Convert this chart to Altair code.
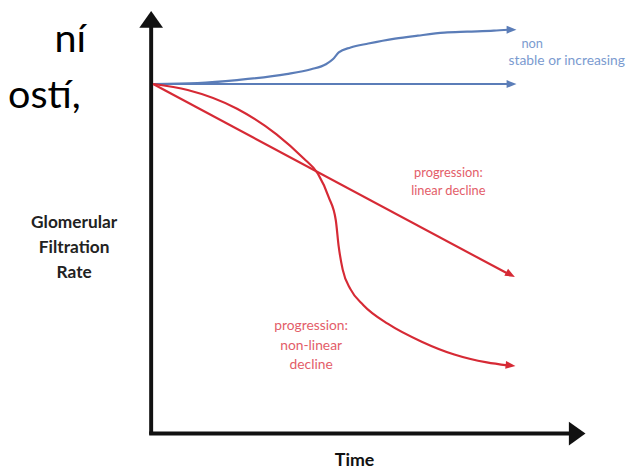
import altair as alt
import pandas as pd

# ---- values (pixel-like diagram coordinates) ----
blue_up_x = [155, 200, 240, 290, 315, 330, 337, 343, 355, 373, 400, 423, 450, 473, 500, 515]
blue_up_y = [82, 81, 78, 72, 67, 62, 57, 50, 45, 41, 36, 33, 30, 29, 28, 27]
blue_flat_x = [155, 515]
blue_flat_y = [82, 82]
red_lin_x = [155, 514]
red_lin_y = [82, 274]
red_nl_x = [155, 190, 240, 280, 307, 322, 333, 340, 343, 347, 355, 368, 393, 427, 460, 493, 514]
red_nl_y = [82, 88, 107, 133, 157, 173, 197, 220, 247, 270, 290, 306, 325, 343, 356, 364, 367]

axis_v_x = [153, 153]
axis_v_y = [22, 437]
axis_h_x = [151, 580]
axis_h_y = [436, 436]

# arrow heads: centre x, y, rotation
head_x = [518, 518, 517, 517]
head_y = [27, 82, 275, 367]
head_angle = [0, 0, 28, 6]
head_color = ["#5b7db8", "#5b7db8", "#d62a35", "#d62a35"]

XD = [8, 639]
YD = [8, 474]
W, H = 631, 466

xs = alt.Scale(domain=XD)
ys = alt.Scale(domain=YD, reverse=True)


def line_layer(xv, yv, color, width, interp="monotone"):
    df = pd.DataFrame({"x": xv, "y": yv, "o": list(range(len(xv)))})
    return alt.Chart(df).mark_line(color=color, strokeWidth=width, interpolate=interp).encode(
        x=alt.X("x:Q", scale=xs, axis=None),
        y=alt.Y("y:Q", scale=ys, axis=None),
        order="o:Q",
    )


def text_layer(lines, xv, yv, color, size, weight="normal", align="center"):
    df = pd.DataFrame({"t": lines, "x": xv, "y": yv})
    return alt.Chart(df).mark_text(
        color=color, fontSize=size, font="Lato", fontWeight=weight, align=align, baseline="middle"
    ).encode(
        x=alt.X("x:Q", scale=xs, axis=None),
        y=alt.Y("y:Q", scale=ys, axis=None),
        text="t:N",
    )


layers = []
layers.append(line_layer(axis_v_x, axis_v_y, "#111111", 4, "linear"))
layers.append(line_layer(axis_h_x, axis_h_y, "#111111", 4, "linear"))
layers.append(line_layer(blue_flat_x, blue_flat_y, "#5b7db8", 2.2, "linear"))
layers.append(line_layer(blue_up_x, blue_up_y, "#5b7db8", 2.2))
layers.append(line_layer(red_lin_x, red_lin_y, "#d62a35", 2.2, "linear"))
layers.append(line_layer(red_nl_x, red_nl_y, "#d62a35", 2.2))

heads = pd.DataFrame({"x": head_x, "y": head_y, "a": head_angle, "c": head_color})
layers.append(
    alt.Chart(heads).mark_point(shape="M-1,-0.8L1,0L-1,0.8Z", filled=True, opacity=1, size=100).encode(
        x=alt.X("x:Q", scale=xs, axis=None),
        y=alt.Y("y:Q", scale=ys, axis=None),
        angle=alt.Angle("a:Q", scale=None),
        color=alt.Color("c:N", scale=None),
    )
)

# axis arrow heads
axh = pd.DataFrame({"x": [153], "y": [16.5]})
layers.append(
    alt.Chart(axh).mark_point(shape="M-1,0.7L0,-0.7L1,0.7Z", filled=True, opacity=1, size=576, color="#111111").encode(
        x=alt.X("x:Q", scale=xs, axis=None), y=alt.Y("y:Q", scale=ys, axis=None)
    )
)
axh2 = pd.DataFrame({"x": [584.5], "y": [436]})
layers.append(
    alt.Chart(axh2).mark_point(shape="M-0.7,-1L0.7,0L-0.7,1Z", filled=True, opacity=1, size=576, color="#111111").encode(
        x=alt.X("x:Q", scale=xs, axis=None), y=alt.Y("y:Q", scale=ys, axis=None)
    )
)

# texts
layers.append(text_layer(["non"], [528], [42], "#7b9bd0", 13, align="left"))
layers.append(text_layer(["stable or increasing"], [515], [59], "#7b9bd0", 14, align="left"))
layers.append(text_layer(["progression:", "linear decline"], [454, 454], [172, 190], "#e35d69", 13))
layers.append(text_layer(["progression:", "non-linear", "decline"], [315, 315, 315], [327, 347, 367], "#e35d69", 14))
layers.append(text_layer(["Time"], [359], [464], "#111111", 18, weight="bold"))
layers.append(text_layer(["Glomerular", "Filtration", "Rate"], [75, 75, 75], [223, 248, 273], "#222222", 17.5, weight="bold"))
layers.append(text_layer(["ní"], [55], [38], "#000000", 40, align="left"))
layers.append(text_layer(["ostí,"], [8], [94], "#000000", 40, align="left"))

chart = alt.layer(*layers).properties(
    width=W, height=H, padding=0, autosize=alt.AutoSizeParams(type="none"), background="white"
).configure_view(stroke=None)

chart.save("out.html", embed_options={"renderer": "svg", "actions": False})
